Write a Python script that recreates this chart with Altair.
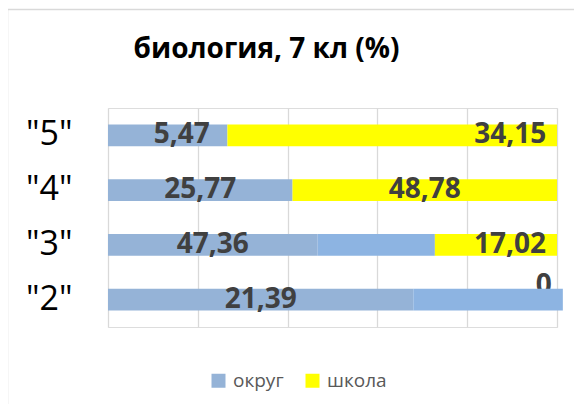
import altair as alt
import pandas as pd

# ---- data ----
categories = ['"5"', '"4"', '"3"', '"2"']
okrug_values = [5.47, 25.77, 47.36, 21.39]      # data labels, series "округ"
school_values = [34.15, 48.78, 17.02, 0]        # data labels, series "школа"
# bar lengths as drawn (percent of the axis)
okrug_bar = [26.6, 41.1, 46.7, 68.0]
extra_bar = [0.0, 0.0, 26.1, 33.3]
school_bar = [73.4, 58.9, 27.2, 0.0]

series_names = ["округ", "округ ", "школа"]
series_colors = ["#95B3D7", "#8DB4E2", "#FFFF00"]

# label nudges (pixels) to follow the reference placement
PX_PER_UNIT = 449 / 100
label_nudge_px = {('"5"', "округ"): 14, ('"5"', "школа"): 118, ('"3"', "школа"): 14, ('"2"', "школа"): -19}


def fmt(v):
    return f"{v:.2f}".replace(".", ",") if v != 0 else "0"


rows = []
for i, c in enumerate(categories):
    for k, (name, bar, lab) in enumerate([
        (series_names[0], okrug_bar[i], fmt(okrug_values[i])),
        (series_names[1], extra_bar[i], ""),
        (series_names[2], school_bar[i], fmt(school_values[i])),
    ]):
        rows.append({
            "category": c, "series": name, "bar": bar, "label": lab, "ord": k,
            "shift": label_nudge_px.get((c, name), 0) / PX_PER_UNIT,
        })
df = pd.DataFrame(rows)

yenc = alt.Y("category:N", sort=categories,
             scale=alt.Scale(paddingInner=0.6, paddingOuter=0.3),
             axis=alt.Axis(title=None, ticks=False, domain=False, labelFont="Open Sans",
                           labelFontSize=34, labelColor="black", labelPadding=36))
xscale = alt.Scale(domain=[0, 100], nice=False)

base = alt.Chart(df)

bars = base.mark_bar().encode(
    y=yenc,
    x=alt.X("bar:Q", stack="zero", scale=xscale,
            axis=alt.Axis(title=None, labels=False, ticks=False, domain=False,
                          values=[0, 20, 40, 60, 80, 100], gridColor="#D9D9D9", gridWidth=1.3)),
    color=alt.Color("series:N",
                    scale=alt.Scale(domain=series_names, range=series_colors),
                    legend=alt.Legend(values=["округ", "школа"], title=None, orient="none",
                                      legendX=101, legendY=263, direction="horizontal",
                                      symbolType="square", symbolSize=196, symbolStrokeWidth=0,
                                      labelFont="Open Sans", labelFontSize=19, labelColor="#595959",
                                      columnPadding=19, labelOffset=5)),
    order=alt.Order("ord:Q"),
)

stacked = base.transform_stack(
    stack="bar", groupby=["category"], as_=["x0", "x1"], sort=[alt.SortField("ord")]
).transform_calculate(mid="(datum.x0 + datum.x1) / 2 + datum.shift")

labels = stacked.transform_filter("datum.label != '' && datum.label != '0'").mark_text(
    font="Open Sans", fontSize=28, fontWeight="bold", color="#404040", baseline="middle"
).encode(x=alt.X("mid:Q", scale=xscale), y=yenc, text="label:N")

zero_label = stacked.transform_filter("datum.label == '0'").mark_text(
    font="Open Sans", fontSize=28, fontWeight="bold", color="#404040", baseline="middle", dy=-14
).encode(x=alt.X("mid:Q", scale=xscale), y=yenc, text="label:N")

frame = alt.Chart(pd.DataFrame({"a": [0]})).mark_rect(
    fillOpacity=0, stroke="#D9D9D9", strokeWidth=1.5
).encode(x=alt.value(-100.5), x2=alt.value(700), y=alt.value(-98.5), y2=alt.value(600))

chart = alt.layer(frame, zero_label, bars, labels).properties(
    width=449, height=219,
    title=alt.TitleParams("биология, 7 кл (%)", font="Open Sans", fontSize=28, fontWeight="bold",
                          color="black", anchor="middle", dx=-66, baseline="alphabetic",
                          offset=0, dy=77),
    autosize=alt.AutoSizeParams(type="none"),
    padding={"left": 100, "top": 100, "right": 17, "bottom": 77},
).configure_view(stroke=None).configure(background="white")

chart.save("out.html", embed_options={"renderer": "svg", "actions": False})
